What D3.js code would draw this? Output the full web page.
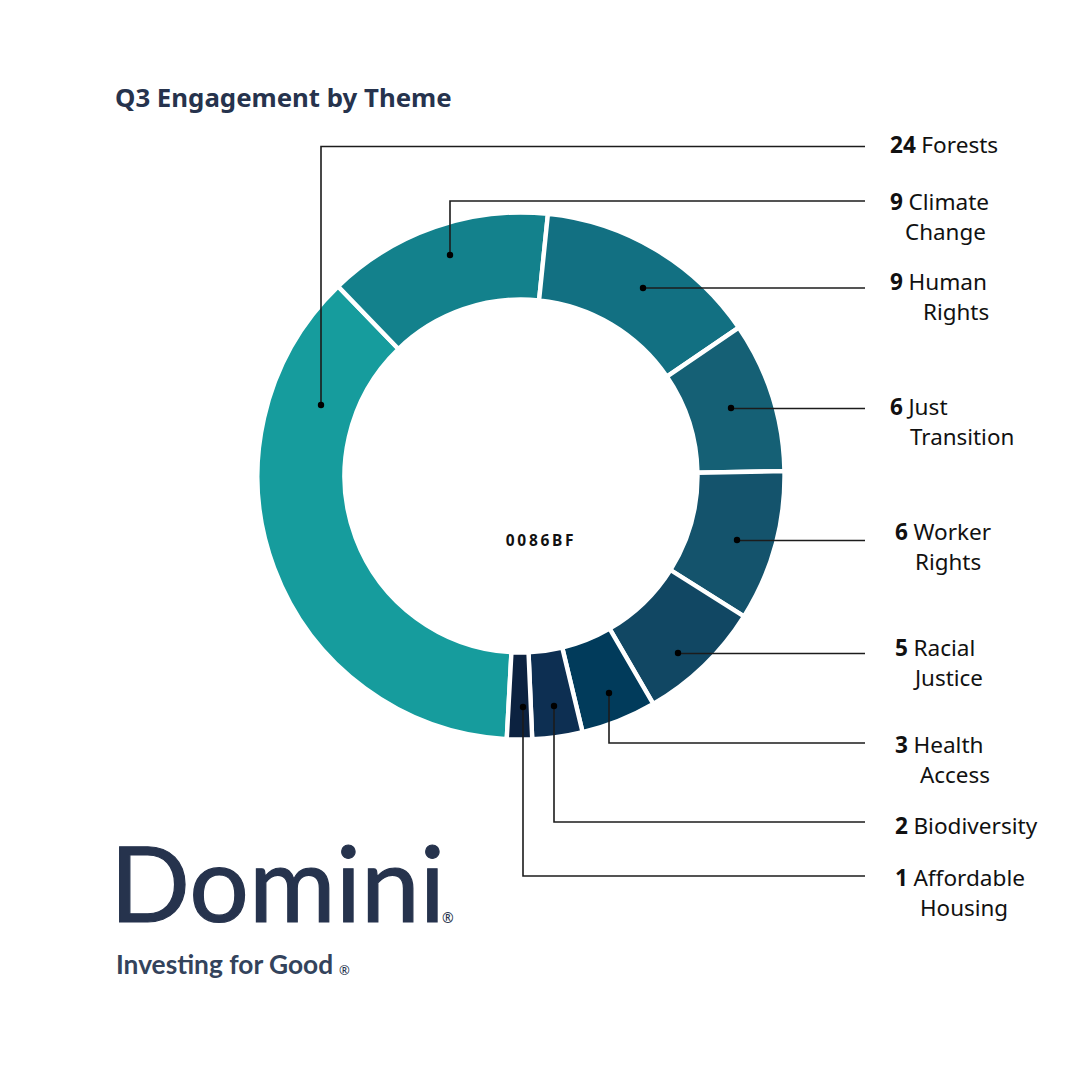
<!DOCTYPE html>
<html><head><meta charset="utf-8">
<script src="https://cdn.jsdelivr.net/npm/d3@7"></script>
<style>html,body{margin:0;padding:0;background:#fff}svg{display:block}</style>
</head><body><svg id="c" width="1080" height="1080"></svg>
<script>
const themes = ["Forests","Climate Change","Human Rights","Just Transition","Worker Rights","Racial Justice","Health Access","Biodiversity","Affordable Housing"];
const counts = [24,9,9,6,6,5,3,2,1];
const colors = ["#169c9d","#13818c","#127082","#156075","#14536c","#114763","#013b5b","#0d2f52","#0c2240"];
const labelFirst = ["Forests","Climate","Human","Just","Worker","Racial","Health","Biodiversity","Affordable"];
const labelSecond = ["","Change","Rights","Transition","Rights","Justice","Access","","Housing"];
const title = "Q3 Engagement by Theme";
const centerText = "0086BF";

// layout of the annotation furniture
const labelX = [890,890,890,890,895,895,895,895,895];
const labelY = [153,210,290,415,540,656,753,834,886];
const secondX = [0,905,923,910,915,915,920,0,920];
const dotX = [321,450,643,731,737,678,609,554,523];
const dotY = [405,255,288,408,540,653,693,706,707];
const lineY = [146.5,201,288,408.5,540.5,653.5,743,822,876];
const lineEnd = 865;
const cx = 521, cy = 476, rOuter = 263.5, rInner = 176.5;
const startDeg = 183.1;
const font = "'Noto Sans',sans-serif";
const navy = "#26334d";

const svg = d3.select("#c");
svg.append("rect").attr("width",1080).attr("height",1080).attr("fill","#fff");
svg.append("text").attr("x",115).attr("y",106.5).attr("font-family",font).attr("font-weight",700)
  .attr("font-size",25.8).attr("fill",navy).text(title);

const pie = d3.pie().sort(null).startAngle(startDeg*Math.PI/180).endAngle((startDeg+360)*Math.PI/180);
const arc = d3.arc().innerRadius(rInner).outerRadius(rOuter);
svg.append("g").attr("transform",`translate(${cx},${cy})`)
  .selectAll("path").data(pie(counts)).join("path")
  .attr("d",arc).attr("fill",(d,i)=>colors[i]).attr("stroke","#fff").attr("stroke-width",4.4);

const leaders = svg.append("g");
const path = d3.line();
counts.forEach((c,i)=>{
  const pts = Math.abs(dotY[i]-lineY[i])<1 ? [[dotX[i],lineY[i]],[lineEnd,lineY[i]]]
    : [[dotX[i],dotY[i]],[dotX[i],lineY[i]],[lineEnd,lineY[i]]];
  leaders.append("path").attr("d",path(pts)).attr("fill","none").attr("stroke","#1c1c1c").attr("stroke-width",1.6);
  leaders.append("circle").attr("cx",dotX[i]).attr("cy",dotY[i]).attr("r",3.2).attr("fill","#000");
  const t = svg.append("text").attr("x",labelX[i]).attr("y",labelY[i]).attr("font-family",font)
    .attr("font-size",22.6).attr("fill","#111");
  t.append("tspan").attr("font-weight",700).text(c);
  t.append("tspan").attr("dx",5.5).text(labelFirst[i]);
  if(labelSecond[i]) svg.append("text").attr("x",secondX[i]).attr("y",labelY[i]+30)
    .attr("font-family",font).attr("font-size",22.4).attr("fill","#111").text(labelSecond[i]);
});

svg.append("text").attr("x",541).attr("y",546).attr("text-anchor","middle").attr("font-family",font)
  .attr("font-weight",700).attr("font-size",15.5).attr("letter-spacing",2.7).attr("fill","#111").text(centerText);

// logo wordmark
svg.append("text").attr("x",110).attr("y",922).attr("font-family","Lato,sans-serif").attr("font-weight",400)
  .attr("font-size",105).attr("fill",navy).attr("stroke",navy).attr("stroke-width",1.2)
  .attr("textLength",335).attr("lengthAdjust","spacingAndGlyphs").text("Domini");
svg.append("text").attr("x",442).attr("y",923).attr("font-family",font).attr("font-size",14).attr("fill",navy).text("®");
svg.append("text").attr("x",116).attr("y",974).attr("font-family","Lato,sans-serif").attr("font-weight",700)
  .attr("font-size",26.3).attr("fill","#33435c").text("Investing for Good");
svg.append("text").attr("x",339).attr("y",975).attr("font-family",font).attr("font-size",13).attr("fill",navy).text("®");
</script></body></html>
